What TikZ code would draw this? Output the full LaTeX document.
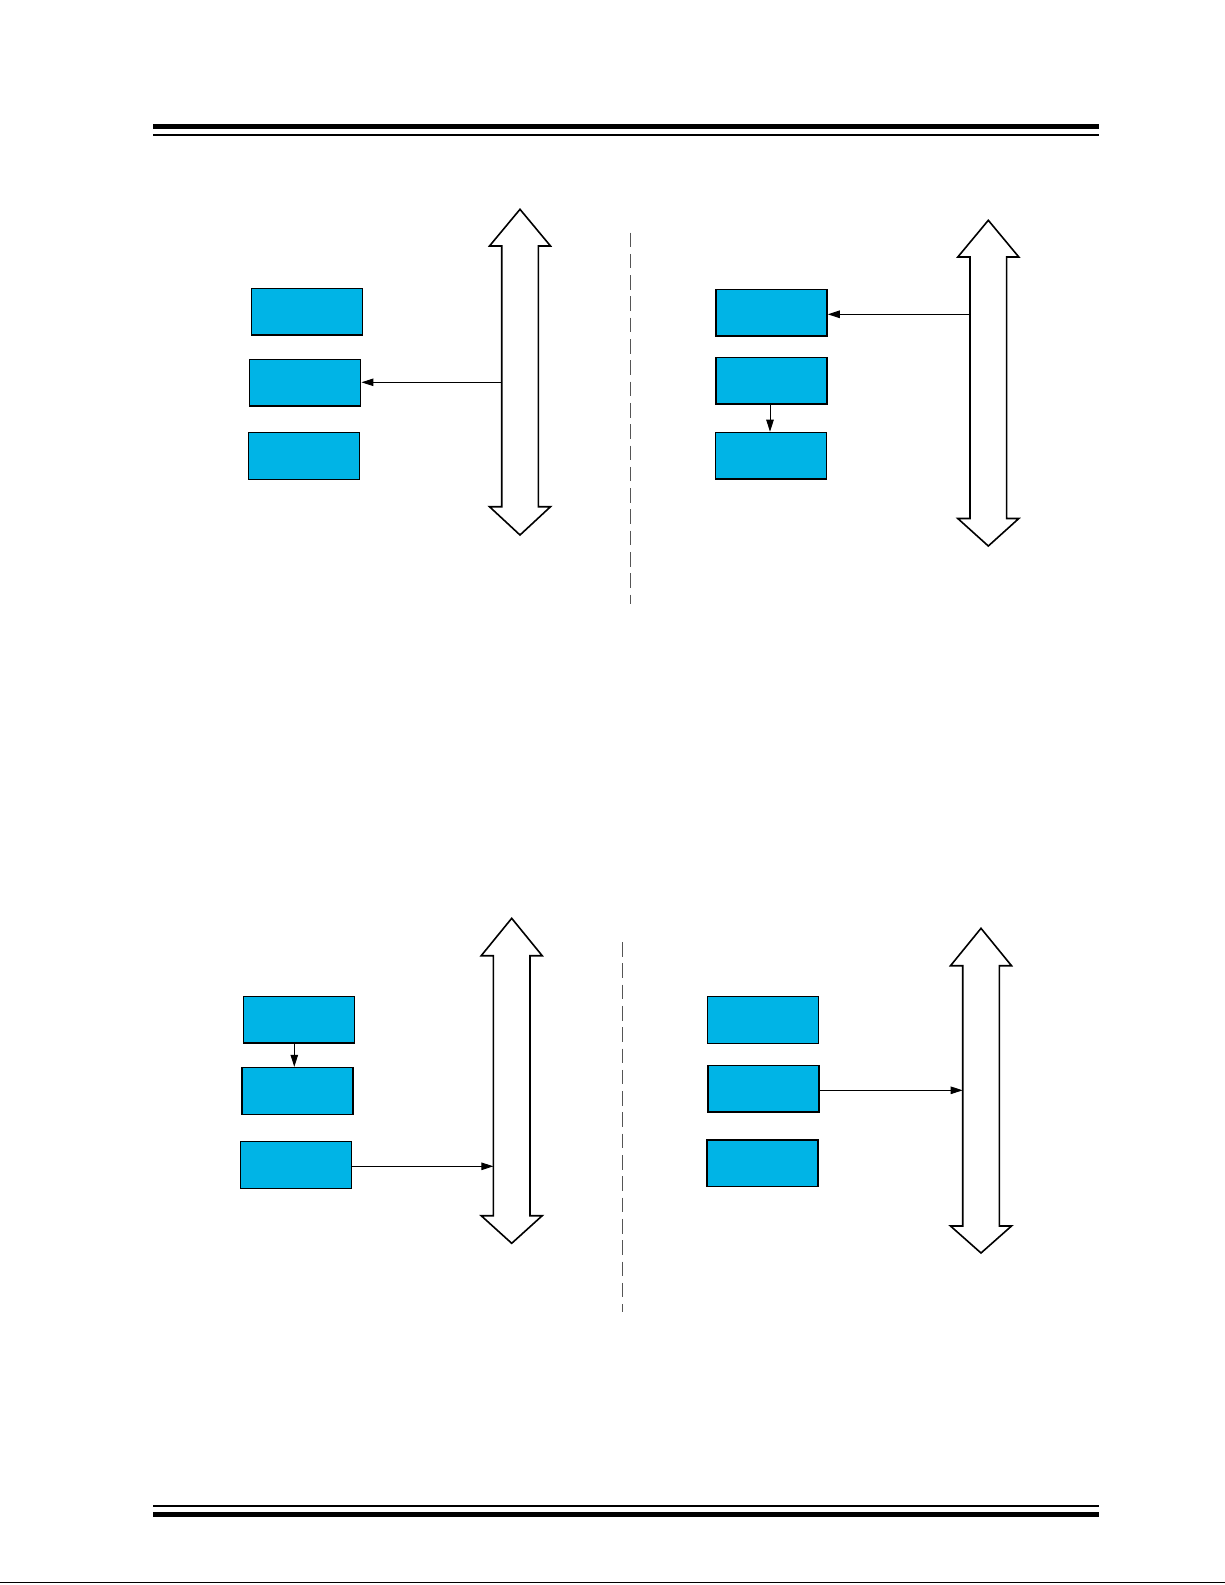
\documentclass[tikz,border=0pt]{standalone}
\usetikzlibrary{arrows.meta}
\definecolor{boxblue}{RGB}{0,180,230}
\definecolor{dashgray}{RGB}{85,85,85}
\newcommand\busarrow[6]{% name, cx, ytop, yhead, ytail, ybot
  \draw[busline] (#2,#3) -- (#2+30.5,#4) -- (#2+18.3,#4) -- (#2+18.3,#5) -- (#2+30.5,#5)
    -- (#2,#6) -- (#2-30.5,#5) -- (#2-18.3,#5) -- (#2-18.3,#4) -- (#2-30.5,#4) -- cycle;
}
\begin{document}
\begin{tikzpicture}[x=1pt,y=-1pt,
  blk/.style={draw=black,line width=1.3pt,fill=boxblue,minimum width=111pt,minimum height=46.7pt,inner sep=0pt},
  busline/.style={draw=black,line width=1.6pt,line join=miter,fill=white},
  conn/.style={draw=black,line width=1pt,-{Triangle[length=12pt,width=7.5pt]}},
  sep/.style={draw=dashgray,line width=1.3pt,dash pattern=on 14.6pt off 6.7pt},
  rulebar/.style={fill=black}]
\useasboundingbox (0,0) rectangle (1225,1585);
% header and footer rules
\fill[rulebar] (152.7,124) rectangle (1098.7,128.7);
\fill[rulebar] (152.7,133.7) rectangle (1098.7,136);
\fill[rulebar] (152.7,1504.7) rectangle (1098.7,1506.7);
\fill[rulebar] (152.7,1512) rectangle (1098.7,1516.7);
\draw[black,line width=1.2pt] (0,1582.5) -- (1225,1582.5);
% separators
\draw[sep] (630.7,232.5) -- (630.7,604.4);
\draw[sep] (622.6,942) -- (622.6,1312);
% buses
\busarrow{A}{520}{209.3}{246}{506.7}{535}
\busarrow{B}{988.3}{220.3}{257}{518.5}{546}
\busarrow{C}{511.7}{918.3}{955.7}{1215.7}{1243.3}
\busarrow{D}{981}{928.3}{965.7}{1226}{1253}
\coordinate (busA) at (501.7,382.3);
\coordinate (busB) at (970,314.3);
\coordinate (busC) at (493.4,1166.3);
\coordinate (busD) at (962.7,1090.3);
% top-left blocks
\node[blk] (a1) at (306.8,311.7) {};
\node[blk] (a2) at (305.3,382.7) {};
\node[blk] (a3) at (304.3,456) {};
% top-right blocks
\node[blk] (b1) at (771.6,312.7) {};
\node[blk] (b2) at (771.6,380.7) {};
\node[blk] (b3) at (771,455.7) {};
% bottom-left blocks
\node[blk] (c1) at (298.7,1019.7) {};
\node[blk] (c2) at (297.5,1090.8) {};
\node[blk] (c3) at (296.3,1164.8) {};
% bottom-right blocks
\node[blk] (d1) at (763.1,1019.8) {};
\node[blk] (d2) at (763.6,1088.7) {};
\node[blk] (d3) at (762.6,1163.3) {};
% connectors
\draw[conn] (busA) -- (busA -| a2.east);
\draw[conn] (busB) -- (busB -| b1.east);
\draw[conn] ([xshift=-1.6pt]b2.south) -- ([xshift=-1.6pt]b2.south |- b3.north);
\draw[conn] ([xshift=-4.4pt]c1.south) -- ([xshift=-4.4pt]c1.south |- c2.north);
\draw[conn] (busC -| c3.east) -- (busC);
\draw[conn] (busD -| d2.east) -- (busD);
\end{tikzpicture}
\end{document}
